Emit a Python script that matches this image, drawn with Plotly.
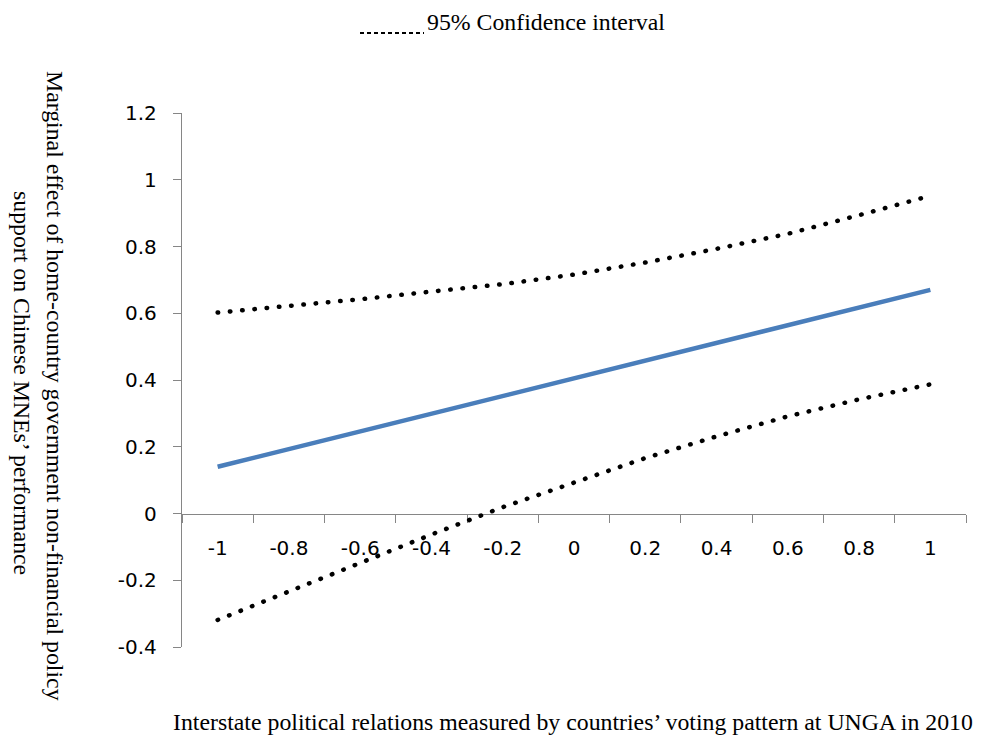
import plotly.graph_objects as go

# Moderator values (category axis) and estimated marginal effects
x_labels = ["-1", "-0.8", "-0.6", "-0.4", "-0.2", "0", "0.2", "0.4", "0.6", "0.8", "1"]
marginal_effect = [0.140, 0.193, 0.246, 0.299, 0.352, 0.405, 0.458, 0.511, 0.564, 0.617, 0.670]
ci_upper = [0.602, 0.621, 0.642, 0.665, 0.687, 0.716, 0.752, 0.793, 0.838, 0.894, 0.952]
ci_lower = [-0.319, -0.234, -0.146, -0.063, 0.019, 0.092, 0.166, 0.231, 0.291, 0.342, 0.387]

y_tickvals = [-0.4, -0.2, 0, 0.2, 0.4, 0.6, 0.8, 1.0, 1.2]
y_ticktext = ["-0.4", "-0.2", "0", "0.2", "0.4", "0.6", "0.8", "1", "1.2"]
y_range = [-0.4, 1.2]

W, H = 987, 737
M_L, M_R, M_T, M_B = 182, 21, 113, 90
PLOT_W = W - M_L - M_R
PLOT_H = H - M_T - M_B

AXIS_GRAY = "#868686"
LINE_BLUE = "#4A7EBB"
NUM_FONT = dict(family="DejaVu Sans, sans-serif", size=20, color="black")
SERIF = "Liberation Serif, Times New Roman, serif"
SERIF_SIZE = 23.8

# round-capped short dashes render as dots
DOT_DASH = "0.5px,11.8px"


def px_x(px):
    """Horizontal pixel position -> paper coordinate."""
    return (px - M_L) / PLOT_W


def px_y(py):
    """Vertical pixel position -> paper coordinate."""
    return (H - M_B - py) / PLOT_H


fig = go.Figure()

fig.add_trace(go.Scatter(
    x=x_labels, y=ci_upper, mode="lines",
    line=dict(color="black", width=4.5, dash=DOT_DASH),
    name="95% Confidence interval",
))
fig.add_trace(go.Scatter(
    x=x_labels, y=ci_lower, mode="lines",
    line=dict(color="black", width=4.5, dash=DOT_DASH),
    name="95% Confidence interval", showlegend=False,
))
fig.add_trace(go.Scatter(
    x=x_labels, y=marginal_effect, mode="lines",
    line=dict(color=LINE_BLUE, width=4.5),
    name="Marginal effect", showlegend=False,
))

# horizontal axis sits on y = 0
x_axis_pos = (0 - y_range[0]) / (y_range[1] - y_range[0])

fig.update_layout(
    width=W, height=H,
    margin=dict(l=M_L, r=M_R, t=M_T, b=M_B, autoexpand=False),
    plot_bgcolor="white", paper_bgcolor="white",
    showlegend=False,
    xaxis=dict(
        type="category", categoryorder="array", categoryarray=x_labels,
        range=[-0.5, len(x_labels) - 0.5],
        anchor="free", position=x_axis_pos,
        showline=True, linecolor=AXIS_GRAY, linewidth=1.3,
        ticks="outside", tickson="boundaries", ticklen=8,
        tickcolor=AXIS_GRAY, tickwidth=1.3,
        showgrid=False, zeroline=False,
        tickfont=NUM_FONT, ticklabelstandoff=16,
        layer="below traces",
    ),
    yaxis=dict(
        range=y_range, tickmode="array", tickvals=y_tickvals, ticktext=y_ticktext,
        showline=True, linecolor=AXIS_GRAY, linewidth=1.3,
        ticks="outside", ticklen=8, tickcolor=AXIS_GRAY, tickwidth=1.3,
        showgrid=False, zeroline=False,
        tickfont=NUM_FONT, ticklabelstandoff=12,
    ),
)

# y-axis title, rotated to read top to bottom, two lines
fig.add_annotation(
    text="Marginal effect of home-country government non-financial policy",
    xref="paper", yref="paper", x=px_x(55), y=px_y(386),
    xanchor="center", yanchor="middle", textangle=90, showarrow=False,
    font=dict(family=SERIF, size=SERIF_SIZE, color="black"),
)
fig.add_annotation(
    text="support on Chinese MNEs’ performance",
    xref="paper", yref="paper", x=px_x(22), y=px_y(383),
    xanchor="center", yanchor="middle", textangle=90, showarrow=False,
    font=dict(family=SERIF, size=SERIF_SIZE, color="black"),
)

# x-axis title
fig.add_annotation(
    text="Interstate political relations measured by countries’ voting pattern at UNGA in 2010",
    xref="paper", yref="paper", x=px_x(573), y=px_y(722),
    xanchor="center", yanchor="middle", showarrow=False,
    font=dict(family=SERIF, size=SERIF_SIZE, color="black"),
)

# legend: dotted sample and label
fig.add_shape(
    type="line", xref="paper", yref="paper",
    x0=px_x(360), x1=px_x(424), y0=px_y(33), y1=px_y(33),
    line=dict(color="black", width=2.2, dash="4px,3px"),
)
fig.add_annotation(
    text="95% Confidence interval",
    xref="paper", yref="paper", x=px_x(425), y=px_y(22),
    xanchor="left", yanchor="middle", showarrow=False,
    font=dict(family=SERIF, size=SERIF_SIZE, color="black"),
)

# give the dashed trace paths round caps so the dashes become dots
ROUND_CAPS_JS = """
var gd = document.getElementById('{plot_id}');
gd.querySelectorAll('.scatterlayer path.js-line').forEach(function (p) {
    var d = p.style.strokeDasharray;
    if (d && d !== 'none') { p.style.strokeLinecap = 'round'; }
});
"""

fig.write_html("out.html", post_script=ROUND_CAPS_JS)
